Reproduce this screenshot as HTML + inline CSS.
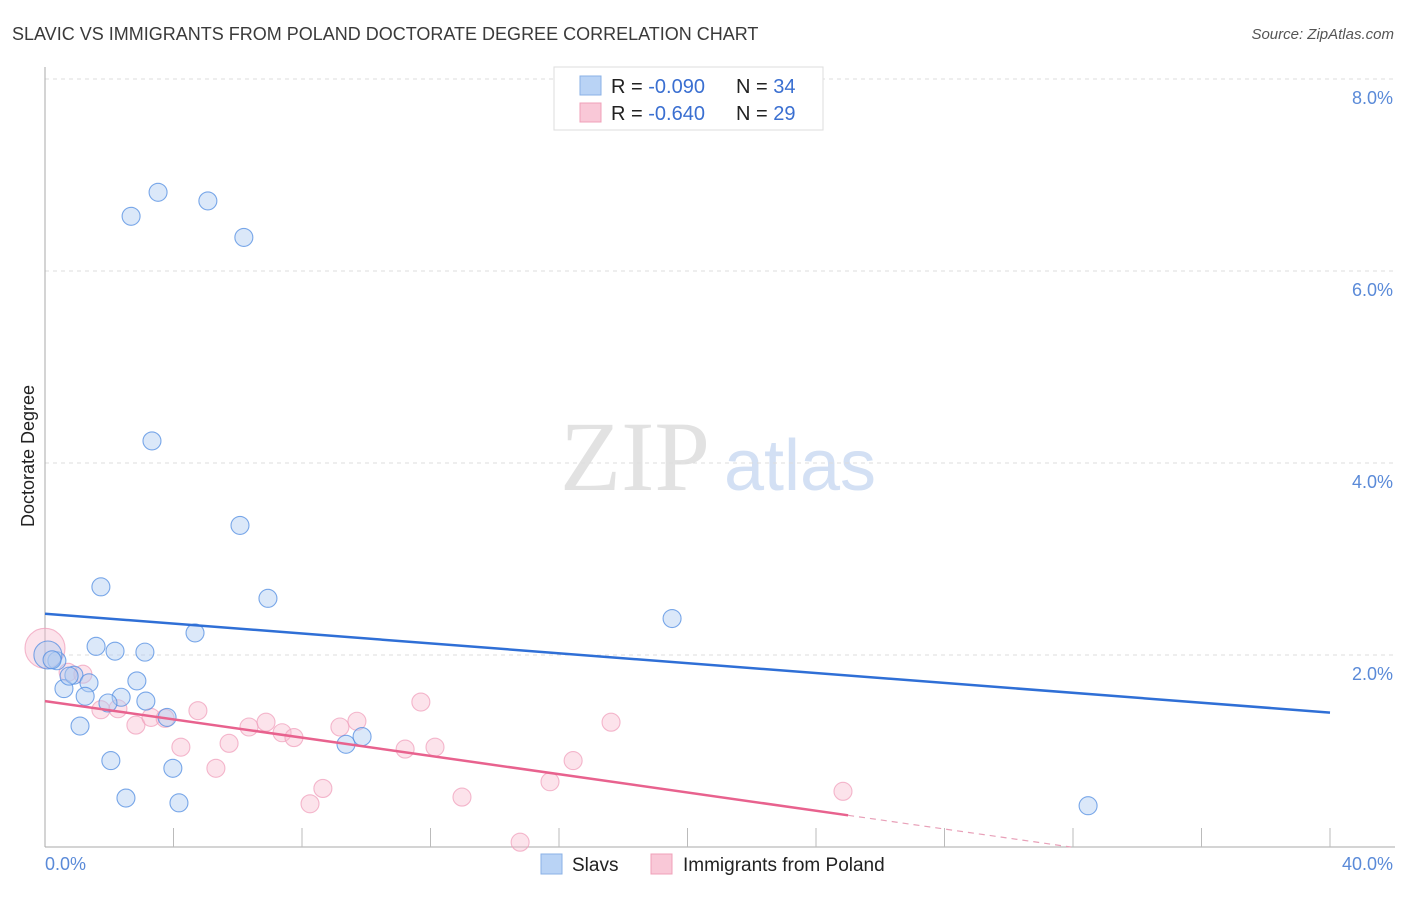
<!DOCTYPE html>
<html><head><meta charset="utf-8"><style>
body{margin:0;background:#fff;font-family:"Liberation Sans",sans-serif}
svg text{font-family:"Liberation Sans",sans-serif}
</style></head><body>
<svg id="chart" width="1406" height="892">
<text x="12" y="40" font-size="18" fill="#3a3a3a">SLAVIC VS IMMIGRANTS FROM POLAND DOCTORATE DEGREE CORRELATION CHART</text>
<text x="1394" y="39" font-size="15" fill="#555" text-anchor="end" font-style="italic">Source: ZipAtlas.com</text>
<text x="34" y="456" font-size="18" fill="#222" text-anchor="middle" transform="rotate(-90 34 456)">Doctorate Degree</text>
<g><text x="635" y="490" font-size="100" fill="#e2e2e2" text-anchor="middle" style="font-family:'Liberation Serif',serif">ZIP</text><text x="800" y="490" font-size="72" fill="#d3e0f4" text-anchor="middle">atlas</text></g>
<g id="grid"></g><g id="axes"></g><g id="marks"></g>
<g>
<rect x="554" y="67" width="269" height="63" fill="#fff" stroke="#ddd"/>
<rect x="580" y="76" width="21" height="19" fill="#b9d3f5" stroke="#8ab0e6"/>
<rect x="580" y="103" width="21" height="19" fill="#f9c8d7" stroke="#f0a0b8"/>
<text x="611" y="93" font-size="20" fill="#222">R = <tspan fill="#3a6fd1">-0.090</tspan></text>
<text x="736" y="93" font-size="20" fill="#222">N = <tspan fill="#3a6fd1">34</tspan></text>
<text x="611" y="120" font-size="20" fill="#222">R = <tspan fill="#3a6fd1">-0.640</tspan></text>
<text x="736" y="120" font-size="20" fill="#222">N = <tspan fill="#3a6fd1">29</tspan></text>
</g>
<g>
<rect x="541" y="854" width="21" height="20" fill="#b9d3f5" stroke="#8ab0e6"/>
<text x="572" y="871" font-size="19" fill="#222">Slavs</text>
<rect x="651" y="854" width="21" height="20" fill="#f9c8d7" stroke="#f0a0b8"/>
<text x="683" y="871" font-size="19" fill="#222">Immigrants from Poland</text>
</g>
</svg>
<script>
const xTicks=[0,4,8,12,16,20,24,28,32,36,40];
const yTicks=[2,4,6,8];
const slavX=[2.68,3.52,5.07,6.19,3.33,6.07,1.74,6.94,4.67,19.52,1.59,2.18,3.11,0.37,0.09,0.59,0.90,1.37,2.86,1.25,2.37,1.96,3.14,3.80,1.09,2.05,3.98,2.52,4.17,9.37,9.87,32.47,0.22,0.75];
const slavY=[6.57,6.82,6.73,6.35,4.23,3.35,2.71,2.59,2.23,2.38,2.09,2.04,2.03,1.94,2.00,1.65,1.79,1.71,1.73,1.57,1.56,1.50,1.52,1.35,1.26,0.90,0.82,0.51,0.46,1.07,1.15,0.43,1.95,1.78];
const polX=[0,0.72,1.18,1.74,2.27,2.83,3.30,3.74,4.23,4.76,5.32,5.73,6.35,6.88,7.38,7.75,8.25,8.65,9.18,9.71,11.21,11.70,12.14,12.98,14.79,15.72,16.44,17.62,24.84];
const polY=[2.07,1.82,1.80,1.43,1.44,1.27,1.35,1.34,1.04,1.42,0.82,1.08,1.25,1.30,1.19,1.14,0.45,0.61,1.25,1.31,1.02,1.51,1.04,0.52,0.05,0.68,0.90,1.30,0.58];
const slavTrend=[2.43,1.40];
const polTrend=[1.52,-0.0476];
const X=v=>45+v/40*1285, Y=v=>847-v*96;
const NS="http://www.w3.org/2000/svg";
function mk(p,t,a){const e=document.createElementNS(NS,t);for(const k in a)e.setAttribute(k,a[k]);p.appendChild(e);return e;}
const grid=document.getElementById('grid'),axes=document.getElementById('axes'),marks=document.getElementById('marks');
yTicks.forEach(t=>{
 const l=mk(grid,'line',{x1:45,x2:1395,y1:Y(t),y2:Y(t),stroke:'#ddd','stroke-dasharray':'4,4'});
 
 
 const tx=mk(axes,'text',{x:1393,y:Y(t)+25,'font-size':18,fill:'#5a8ad8','text-anchor':'end'});tx.textContent=t.toFixed(1)+'%';
 
 
});
const ax=mk(axes,'line',{x1:45,x2:45,y1:67,y2:847,stroke:'#aaa'});


const bx=mk(axes,'line',{x1:45,x2:1395,y1:847,y2:847,stroke:'#aaa'});


xTicks.slice(1).forEach(t=>{
 const l=mk(axes,'line',{x1:X(t),x2:X(t),y1:828,y2:847,stroke:'#bbb'});
 
 
});
[[0,'0.0%','start',45],[40,'40.0%','end',1393]].forEach(([v,s,a,x])=>{
 const tx=mk(axes,'text',{x:x,y:870,'font-size':18,fill:'#5a8ad8','text-anchor':a});tx.textContent=s;
 
 
});
polX.forEach((x,i)=>{
 const c=mk(marks,'circle',{cx:X(x),cy:Y(polY[i]),r:i==0?20:9,fill:'rgba(248,185,205,0.4)',stroke:'rgba(240,160,188,0.75)','stroke-width':1.1});
 
 
});
slavX.forEach((x,i)=>{
 const c=mk(marks,'circle',{cx:X(x),cy:Y(slavY[i]),r:i==14?14:9,fill:'rgba(175,205,242,0.45)',stroke:'rgba(80,140,225,0.75)','stroke-width':1.1});
 
 
});
const sl=mk(marks,'line',{x1:X(0),y1:Y(slavTrend[0]),x2:X(40),y2:Y(slavTrend[1]),stroke:'#2f6fd6','stroke-width':2.5});


const pe=25, pz=-polTrend[0]/polTrend[1];
const pl=mk(marks,'line',{x1:X(0),y1:Y(polTrend[0]),x2:X(pe),y2:Y(polTrend[0]+polTrend[1]*pe),stroke:'#e8628e','stroke-width':2.5});


const pd=mk(marks,'line',{x1:X(pe),y1:Y(polTrend[0]+polTrend[1]*pe),x2:X(pz),y2:Y(0),stroke:'#e8a0b8','stroke-width':1.2,'stroke-dasharray':'6,5'});


</script>
</body></html>
